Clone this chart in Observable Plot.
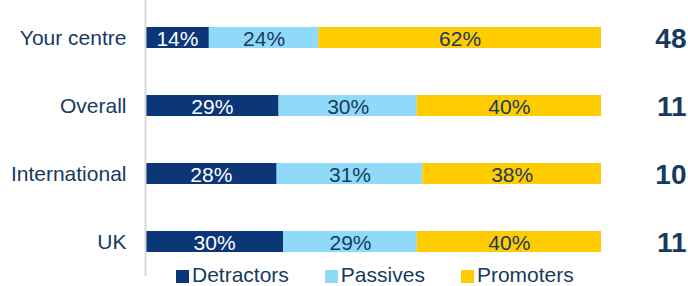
<!DOCTYPE html>
<html>
<head>
<meta charset="utf-8">
<script src="https://cdn.jsdelivr.net/npm/d3@7"></script>
<script src="https://cdn.jsdelivr.net/npm/@observablehq/plot@0.6"></script>
<style>
  html, body { margin: 0; padding: 0; background: #fff; }
  #wrap { position: relative; width: 688px; height: 286px; font-family: "Liberation Sans", Arial, sans-serif; }
  #legend { position: absolute; left: 176px; top: 264px; display: flex; align-items: center; font-size: 21px; color: #173a5e; line-height: 22px; }
  #legend .item { display: flex; align-items: center; margin-right: 36px; }
  #legend .sw { width: 13px; height: 13px; margin-right: 3px; margin-top: 3px; }
</style>
</head>
<body>
<div id="wrap"><div id="chart"></div><div id="legend"></div></div>
<script>
const categories = ["Your centre", "Overall", "International", "UK"];
const seriesNames = ["Detractors", "Passives", "Promoters"];
const detractors = [14, 29, 28, 30];
const passives = [24, 30, 31, 29];
const promoters = [62, 40, 38, 40];
const npsScores = [48, 11, 10, 11];
const colors = ["#0b3677", "#8fd9f9", "#ffcc00"];
const textNavy = "#173a5e";

const seriesValues = [detractors, passives, promoters];
const rows = [];
categories.forEach((cat, i) => {
  seriesNames.forEach((s, j) => rows.push({cat, series: s, value: seriesValues[j][i]}));
});
const npsRows = categories.map((cat, i) => ({cat, nps: npsScores[i]}));

const stackOpts = {x: "value", y: "cat", z: "series", offset: "normalize"};

const chart = Plot.plot({
  width: 688,
  height: 286,
  marginLeft: 145,
  marginRight: 87,
  marginTop: 0,
  marginBottom: 10,
  style: {fontFamily: "'Liberation Sans', Arial, sans-serif", background: "white"},
  x: {domain: [0, 1], axis: null},
  y: {domain: categories, range: [26, 253], paddingInner: 0.69, paddingOuter: 0, axis: null, label: null},
  color: {domain: seriesNames, range: colors},
  marks: [
    Plot.barX(rows, Plot.stackX({...stackOpts, fill: "series"})),
    Plot.ruleX([0], {stroke: "#d9d9d9", strokeWidth: 2}),
    Plot.axisY({tickSize: 0, tickPadding: 19, fontSize: 21, fill: textNavy, color: textNavy, label: null}),
    Plot.text(rows, Plot.stackX({...stackOpts, text: d => d.series === "Detractors" ? d.value + "%" : "", fill: "white", fontSize: 21, dy: 1})),
    Plot.text(rows, Plot.stackX({...stackOpts, text: d => d.series !== "Detractors" ? d.value + "%" : "", fill: textNavy, fontSize: 21, dy: 1})),
    Plot.text(npsRows, {x: () => 1, y: "cat", text: d => String(d.nps), dx: 85, textAnchor: "end", fontSize: 28, fontWeight: "bold", fill: textNavy, dy: 1})
  ]
});
document.getElementById("chart").appendChild(chart);

const legend = document.getElementById("legend");
seriesNames.forEach((s, i) => {
  const item = document.createElement("div");
  item.className = "item";
  const sw = document.createElement("span");
  sw.className = "sw";
  sw.style.background = colors[i];
  const t = document.createElement("span");
  t.textContent = s;
  item.appendChild(sw);
  item.appendChild(t);
  legend.appendChild(item);
});
</script>
</body>
</html>
